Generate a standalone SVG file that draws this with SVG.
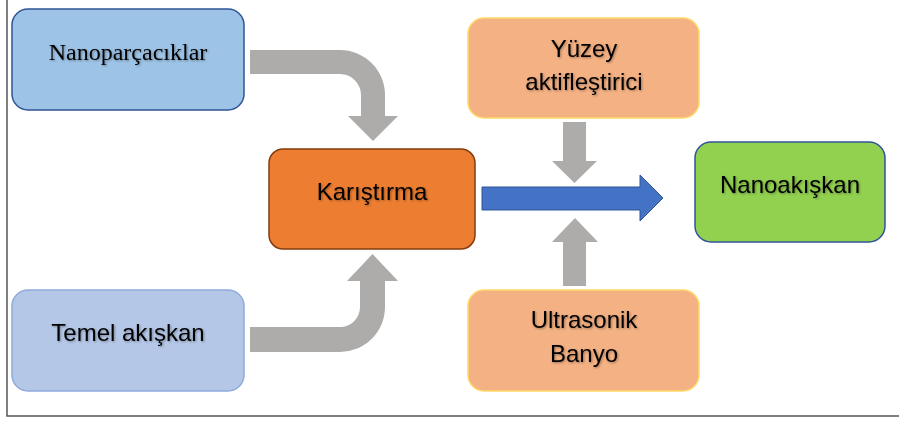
<svg xmlns="http://www.w3.org/2000/svg" width="899" height="421" viewBox="0 0 899 421">
<defs>
<style>
.box{stroke-width:1.5}
.t{font-family:"Liberation Sans",Arial,sans-serif;font-size:24px;fill:#000;text-anchor:middle;filter:url(#sh)}
.ts{font-family:"Liberation Serif","Times New Roman",serif;font-size:24px;fill:#000;text-anchor:middle;filter:url(#sh)}
.gray{fill:#AEABAB}
</style>
<filter id="sh" x="-10%" y="-30%" width="120%" height="160%">
<feDropShadow dx="1" dy="1" stdDeviation="0.8" flood-color="#000" flood-opacity="0.35"/>
</filter>
</defs>
<rect width="899" height="421" fill="#fff"/>
<path d="M7,0 V416 H899" fill="none" stroke="#555" stroke-width="1.5"/>

<g id="connectors">
<path class="gray" d="M250,50 H340 A45,45 0 0 1 385,95 V116 H398 L373,141 L348,116 H361 V95 A21,21 0 0 0 340,74 H250 Z"/>
<path class="gray" d="M250,352 H340 A45,45 0 0 0 385,307 V281 H398 L372.5,254 L347,281 H360 V307 A20,20 0 0 1 340,327 H250 Z"/>
<path class="gray" d="M563,122 H586 V161 H597 L574.5,183 L552,161 H563 Z"/>
<path class="gray" d="M563,286 V242 H552 L575,218 L598,242 H586 V286 Z"/>
<path d="M482,187 H640 V175 L663,198 L640,221 V210 H482 Z" fill="#4472C4" stroke="#2F5597" stroke-width="1"/>
</g>

<g id="nanoparcaciklar">
<rect class="box" x="12" y="9" width="232" height="101" rx="16" fill="#9DC3E6" stroke="#2F5597"/>
<text class="ts" x="128" y="60">Nanoparçacıklar</text>
</g>

<g id="temel-akiskan">
<rect class="box" x="12" y="290" width="232" height="101" rx="16" fill="#B4C7E7" stroke="#8FAADC"/>
<text class="t" x="128" y="341">Temel akışkan</text>
</g>

<g id="karistirma">
<rect class="box" x="269" y="149" width="206" height="100" rx="14" fill="#ED7D31" stroke="#843C0C"/>
<text class="t" x="372" y="200">Karıştırma</text>
</g>

<g id="yuzey-aktiflestirici">
<rect class="box" x="468" y="18" width="231" height="100" rx="16" fill="#F4B183" stroke="#FFD966"/>
<text class="t" x="584" y="57">Yüzey</text>
<text class="t" x="584" y="90">aktifleştirici</text>
</g>

<g id="ultrasonik-banyo">
<rect class="box" x="468" y="290" width="231" height="101" rx="16" fill="#F4B183" stroke="#FFD966"/>
<text class="t" x="584" y="328">Ultrasonik</text>
<text class="t" x="584" y="362">Banyo</text>
</g>

<g id="nanoakiskan">
<rect class="box" x="695" y="142" width="190" height="100" rx="16" fill="#92D050" stroke="#2F5597"/>
<text class="t" x="790" y="193">Nanoakışkan</text>
</g>
</svg>
